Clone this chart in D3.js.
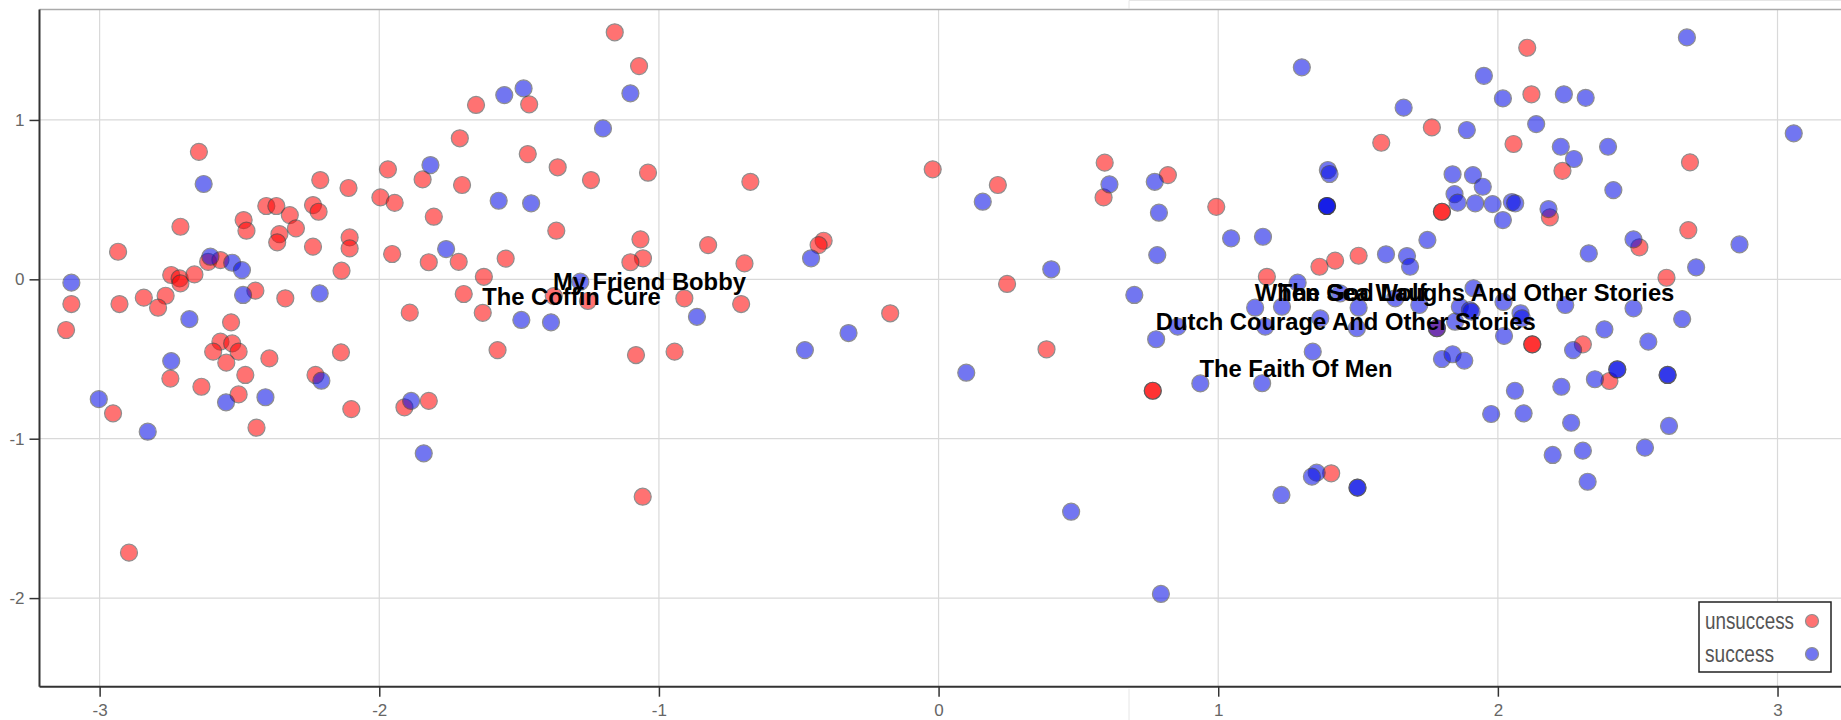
<!DOCTYPE html>
<html>
<head>
<meta charset="utf-8">
<title>Scatter</title>
<script src="https://d3js.org/d3.v7.min.js"></script>
<style>
  body { margin: 0; background: #fff; }
  svg { display: block; }
  .axis-text { font-family: "Liberation Sans Narrow", "Arial Narrow", "Liberation Sans", Arial, sans-serif; font-size: 17px; fill: #666; }
  .legend-text { font-family: "Liberation Sans Narrow", "Arial Narrow", "Liberation Sans", Arial, sans-serif; font-size: 23px; fill: #555; }
  .point-label { font-family: "Liberation Sans", Arial, sans-serif; font-weight: bold; font-size: 23.8px; fill: #000; }
</style>
</head>
<body>
<div id="chart"></div>
<script>
// series values [x, y]
const unsuccessPoints = [
  [-2.645,0.80],[-2.711,0.33],[-2.934,0.173],[-3.101,-0.155],[-2.929,-0.155],[-2.842,-0.115],[-2.764,-0.103],
  [-2.791,-0.178],[-2.744,0.027],[-2.714,0.006],[-2.711,-0.025],[-2.661,0.031],[-2.612,0.11],[-2.568,0.121],
  [-2.485,0.372],[-2.475,0.305],[-2.404,0.46],[-2.368,0.46],[-2.32,0.403],[-2.298,0.32],[-2.357,0.284],
  [-2.365,0.232],[-2.237,0.466],[-2.217,0.424],[-2.211,0.623],[-2.237,0.205],[-2.11,0.573],[-2.106,0.263],
  [-2.106,0.194],[-2.135,0.054],[-2.336,-0.119],[-2.443,-0.071],[-1.969,0.69],[-1.996,0.514],[-1.945,0.48],
  [-1.845,0.627],[-1.805,0.393],[-1.954,0.159],[-1.823,0.107],[-1.716,0.11],[-1.704,0.592],[-1.712,0.885],
  [-1.654,1.094],[-1.626,0.016],[-1.698,-0.092],[-1.548,0.13],[-1.891,-0.209],[-1.63,-0.21],[-2.53,-0.27],
  [-3.12,-0.318],[-2.568,-0.391],[-2.526,-0.402],[-2.594,-0.454],[-2.503,-0.454],[-2.547,-0.523],[-2.393,-0.496],
  [-2.479,-0.6],[-2.747,-0.623],[-2.636,-0.674],[-2.503,-0.722],[-2.952,-0.841],[-2.439,-0.931],[-2.137,-0.458],
  [-2.228,-0.6],[-2.1,-0.814],[-1.91,-0.803],[-1.823,-0.763],[-1.577,-0.444],[-2.895,-1.715],
  [-1.158,1.55],[-1.071,1.338],[-1.464,1.098],[-1.469,0.786],[-1.362,0.703],[-1.243,0.623],[-1.039,0.669],
  [-0.673,0.612],[-0.021,0.69],[-1.367,0.305],[-1.066,0.251],[-1.057,0.132],[-1.102,0.107],[-0.824,0.215],
  [-0.694,0.1],[-0.411,0.242],[-0.429,0.215],[-1.376,-0.105],[-1.254,-0.136],[-0.909,-0.119],[-0.706,-0.155],
  [-0.173,-0.213],[-1.082,-0.475],[-0.944,-0.454],[-1.058,-1.364],[0.212,0.592],[0.594,0.732],[0.59,0.514],
  [0.82,0.654],[0.993,0.455],[0.245,-0.029],[0.386,-0.439],[0.766,-0.699],[0.766,-0.699],
  [1.764,0.953],[1.583,0.857],[1.362,0.079],[1.418,0.117],[1.502,0.148],[1.174,0.016],[1.8,0.424],[1.8,0.424],
  [2.105,1.453],[2.12,1.161],[2.056,0.849],[2.231,0.681],[2.687,0.734],[2.186,0.389],[2.681,0.309],[2.506,0.201],
  [2.603,0.01],[2.123,-0.408],[2.123,-0.408],[2.304,-0.408],[2.399,-0.638],[1.404,-1.217],[1.782,-0.307]
];

const successPoints = [
  [-1.553,1.156],[-1.484,1.198],[-2.628,0.598],[-1.817,0.717],[-1.573,0.493],[-1.761,0.19],[-2.604,0.142],
  [-2.526,0.104],[-2.491,0.058],[-3.101,-0.021],[-2.487,-0.098],[-2.213,-0.088],[-2.679,-0.25],[-2.744,-0.513],
  [-3.003,-0.752],[-2.828,-0.956],[-2.548,-0.772],[-2.407,-0.74],[-2.207,-0.636],[-1.886,-0.763],[-1.841,-1.092],
  [-1.102,1.167],[-1.2,0.947],[-1.457,0.477],[-0.456,0.132],[-1.281,-0.015],[-1.492,-0.255],[-1.386,-0.27],
  [-0.864,-0.235],[-0.322,-0.337],[-0.478,-0.444],[0.158,0.487],[0.611,0.596],[0.773,0.612],[0.788,0.418],
  [1.046,0.257],[0.782,0.152],[0.403,0.063],[0.7,-0.098],[0.778,-0.376],[0.855,-0.297],[0.099,-0.586],
  [0.936,-0.653],[0.474,-1.458],[0.795,-1.974],
  [1.299,1.33],[1.663,1.077],[1.889,0.937],[1.392,0.686],[1.398,0.661],[1.389,0.46],[1.389,0.46],[1.389,0.46],
  [1.838,0.659],[1.911,0.654],[1.845,0.535],[1.856,0.481],[1.919,0.477],[1.16,0.267],[1.748,0.247],[1.6,0.157],
  [1.675,0.146],[1.686,0.079],[1.284,-0.021],[1.132,-0.178],[1.228,-0.172],[1.365,-0.245],[1.502,-0.178],
  [1.913,-0.056],[1.719,-0.161],[1.436,-0.088],[1.633,-0.119],[1.168,-0.297],[1.496,-0.307],[1.782,-0.307],
  [1.847,-0.266],[2.676,1.518],[1.95,1.277],[2.018,1.135],[2.236,1.161],[2.314,1.139],[2.137,0.974],
  [2.225,0.832],[2.272,0.755],[2.394,0.832],[3.058,0.916],[2.413,0.56],[1.946,0.581],[1.981,0.472],[2.05,0.485],
  [2.062,0.477],[2.018,0.372],[2.181,0.441],[2.485,0.251],[2.325,0.163],[2.864,0.219],[2.709,0.075],[2.02,-0.142],
  [2.241,-0.161],[2.485,-0.182],[2.659,-0.249],[2.381,-0.314],[2.538,-0.391],[2.269,-0.444],[2.022,-0.355],
  [2.081,-0.213],[2.086,-0.245],[1.864,-0.172],[1.9,-0.193],[1.906,-0.203],[1.8,-0.5],[1.838,-0.47],[1.88,-0.51],
  [1.338,-0.454],[1.157,-0.652],[2.061,-0.699],[2.227,-0.674],[2.347,-0.627],[2.427,-0.565],[2.427,-0.565],
  [2.607,-0.6],[2.607,-0.6],[1.976,-0.845],[2.092,-0.841],[2.262,-0.9],[2.612,-0.92],[2.196,-1.102],
  [2.304,-1.075],[2.526,-1.056],[2.321,-1.27],[1.352,-1.213],[1.335,-1.238],[1.498,-1.307],[1.498,-1.307],
  [1.226,-1.353]
];

// annotated titles (centre x, baseline y)
const labelTitles = ["My Friend Bobby", "The Coffin Cure", "When God Laughs And Other Stories",
  "The Sea Wolf", "Dutch Courage And Other Stories", "The Faith Of Men"];
const labelX = [-1.034, -1.313, 1.881, 1.479, 1.456, 1.278];
const labelY = [-0.064, -0.164, -0.139, -0.139, -0.317, -0.615];

const seriesNames = ["unsuccess", "success"];
const seriesColors = ["#ff0000", "#0008e6"];
const legendTextWidths = [89, 69];

const xTickValues = [-3, -2, -1, 0, 1, 2, 3];
const yTickValues = [-2, -1, 0, 1];
const xDomain = [-3.215, 3.227];
const yDomain = [-2.556, 1.693];

const width = 1841, height = 720;
const plot = { left: 39.5, right: 1841, top: 9.5, bottom: 686.7 };

const x = d3.scaleLinear().domain(xDomain).range([plot.left, plot.right]);
const y = d3.scaleLinear().domain(yDomain).range([plot.bottom, plot.top]);

const svg = d3.select("#chart").append("svg")
  .attr("width", width)
  .attr("height", height);

svg.append("rect").attr("width", width).attr("height", height).attr("fill", "#fff");

// faint panel edge behind the chart
const panelX = 1129;
svg.append("path")
  .attr("d", `M${panelX},${height} V${plot.bottom + 2} M${panelX},${plot.top - 1} V0.5 H${width}`)
  .attr("fill", "none").attr("stroke", "#e6e6e6").attr("stroke-width", 1);

// grid
const grid = svg.append("g");
grid.selectAll("line.gx").data(xTickValues).enter().append("line")
  .attr("x1", d => x(d)).attr("x2", d => x(d))
  .attr("y1", plot.top).attr("y2", plot.bottom)
  .attr("stroke", "#d9d9d9").attr("stroke-width", 1.2);
grid.selectAll("line.gy").data(yTickValues).enter().append("line")
  .attr("x1", plot.left).attr("x2", plot.right)
  .attr("y1", d => y(d)).attr("y2", d => y(d))
  .attr("stroke", "#d9d9d9").attr("stroke-width", 1.2);

// top border
svg.append("line")
  .attr("x1", plot.left).attr("x2", plot.right)
  .attr("y1", plot.top).attr("y2", plot.top)
  .attr("stroke", "#aaa").attr("stroke-width", 1.5);

// x axis
const xMinor = d3.range(-16, 17).map(i => i * 0.2).filter(v => Math.abs(v - Math.round(v)) > 1e-6);
const xAxisG = svg.append("g").attr("transform", `translate(0,${plot.bottom})`);
xAxisG.call(d3.axisBottom(x).tickValues(xMinor).tickSize(6).tickFormat(""));
xAxisG.call(d3.axisBottom(x).tickValues(xTickValues).tickSize(10).tickPadding(7).tickFormat(d => String(d)));
xAxisG.selectAll(".domain").remove();
xAxisG.selectAll(".tick line").attr("stroke", "#333").attr("stroke-width", 1.5);
xAxisG.selectAll(".tick text").attr("class", "axis-text");
xAxisG.attr("font-size", null).attr("font-family", null);
xAxisG.append("line").attr("x1", plot.left).attr("x2", plot.right).attr("stroke", "#333").attr("stroke-width", 2);

// y axis
const yMinor = d3.range(-12, 9).map(i => i * 0.2).filter(v => Math.abs(v - Math.round(v)) > 1e-6);
const yAxisG = svg.append("g").attr("transform", `translate(${plot.left},0)`);
yAxisG.call(d3.axisLeft(y).tickValues(yMinor).tickSize(6).tickFormat(""));
yAxisG.call(d3.axisLeft(y).tickValues(yTickValues).tickSize(10).tickPadding(5).tickFormat(d => String(d)));
yAxisG.selectAll(".domain").remove();
yAxisG.selectAll(".tick line").attr("stroke", "#333").attr("stroke-width", 1.5);
yAxisG.selectAll(".tick text").attr("class", "axis-text");
yAxisG.attr("font-size", null).attr("font-family", null);
yAxisG.append("line").attr("y1", plot.top).attr("y2", plot.bottom).attr("stroke", "#333").attr("stroke-width", 2);

// points
const series = [unsuccessPoints, successPoints];
series.forEach((pts, i) => {
  svg.append("g").selectAll("circle")
    .data(pts)
    .enter().append("circle")
    .attr("cx", d => x(d[0]))
    .attr("cy", d => y(d[1]))
    .attr("r", 8.5)
    .attr("fill", seriesColors[i])
    .attr("stroke", "#333")
    .attr("stroke-width", 1.2)
    .attr("opacity", 0.55);
});

// labels
svg.append("g").selectAll("text")
  .data(labelTitles)
  .enter().append("text")
  .attr("class", "point-label")
  .attr("text-anchor", "middle")
  .attr("x", (d, i) => x(labelX[i]))
  .attr("y", (d, i) => y(labelY[i]))
  .text(d => d);

// legend
const legend = svg.append("g").attr("transform", "translate(1699,602)");
legend.append("rect").attr("width", 132).attr("height", 70)
  .attr("fill", "#fff").attr("stroke", "#222").attr("stroke-width", 1.5);
seriesNames.forEach((name, i) => {
  const row = legend.append("g").attr("transform", `translate(0,${19 + i * 33})`);
  row.append("text").attr("class", "legend-text").attr("x", 6).attr("y", 8)
    .attr("textLength", legendTextWidths[i]).attr("lengthAdjust", "spacingAndGlyphs")
    .text(name);
  row.append("circle").attr("cx", 113).attr("cy", 0).attr("r", 6.5)
    .attr("fill", seriesColors[i]).attr("stroke", "#333").attr("stroke-width", 1.2).attr("opacity", 0.55);
});
</script>
</body>
</html>
